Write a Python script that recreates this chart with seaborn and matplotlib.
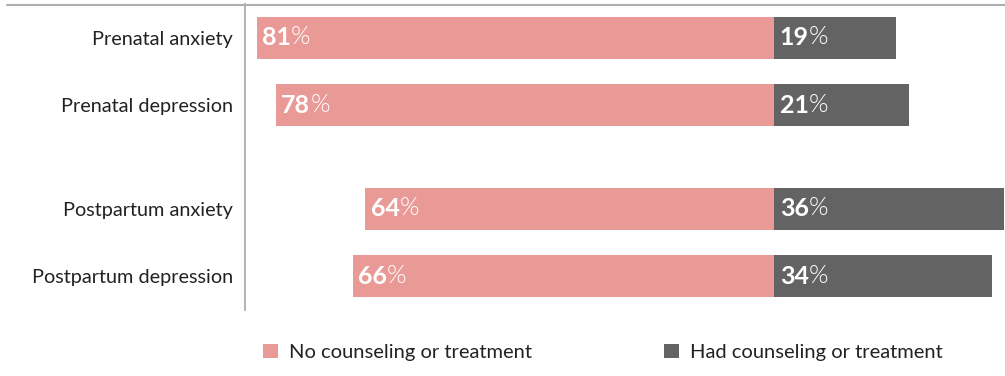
import numpy as np
import pandas as pd
import matplotlib.pyplot as plt
import seaborn as sns

categories = ["Prenatal anxiety", "Prenatal depression", "Postpartum anxiety", "Postpartum depression"]
no_treatment = [81, 78, 64, 66]
had_treatment = [19, 21, 36, 34]
series_names = ["No counseling or treatment", "Had counseling or treatment"]

pink = "#EA9A96"
dark = "#636363"
grey_line = "#AEAEAE"

# extra gap between prenatal and postpartum groups
ypos = [0, 1, 2.55, 3.55]

df = pd.DataFrame({"cat": categories, "y": ypos,
                   "no": [-v for v in no_treatment], "had": had_treatment})

sns.set_style("white")
plt.rcParams['font.family'] = ['Lato', 'DejaVu Sans']

fig = plt.figure(figsize=(10.05, 3.76), dpi=100)
ax = fig.add_axes([245 / 1005, 1 - 310 / 376, 760 / 1005, 306 / 376])

sns.barplot(data=df, x="no", y="y", orient="h", native_scale=True, width=0.63,
            color=pink, saturation=1, linewidth=0, ax=ax, label=series_names[0])
sns.barplot(data=df, x="had", y="y", orient="h", native_scale=True, width=0.63,
            color=dark, saturation=1, linewidth=0, ax=ax, label=series_names[1])

ax.set_xlim(-82.85, 36.1)
ax.set_ylim(4.057, -0.507)
ax.set_xlabel("")
ax.set_ylabel("")
ax.set_xticks([])
ax.set_yticks(ypos)
ax.set_yticklabels(categories, fontsize=14.3, color="#222222")
ax.tick_params(axis="y", length=0, pad=8.5)
for s in ["top", "right", "bottom"]:
    ax.spines[s].set_visible(False)
ax.spines["left"].set_color(grey_line)
ax.spines["left"].set_linewidth(1.3)

# top rule
fig.add_artist(plt.Line2D([7 / 1005, 1], [1 - 4.5 / 376, 1 - 4.5 / 376],
                          transform=fig.transFigure, color=grey_line, lw=1.5))

# value labels: bold number + lighter percent sign
for y, a, b in zip(ypos, no_treatment, had_treatment):
    for xv, val in [(-a, a), (0, b)]:
        t = ax.annotate(str(val), xy=(xv, y), xytext=(3.8, 0), textcoords="offset points",
                        ha="left", va="center", color="white", fontsize=18, fontweight="bold")
        ax.annotate("%", xy=(1, 0), xycoords=t, ha="left", va="bottom",
                    color="white", fontsize=18, fontweight=300)

leg = ax.legend(loc="upper left", bbox_to_anchor=(0.0, -0.052), ncol=2, frameon=False,
                fontsize=14.5, handlelength=0.72, handleheight=0.72, handletextpad=0.58,
                columnspacing=6.55, labelcolor="#222222")

fig.savefig("out.png", dpi=100)
